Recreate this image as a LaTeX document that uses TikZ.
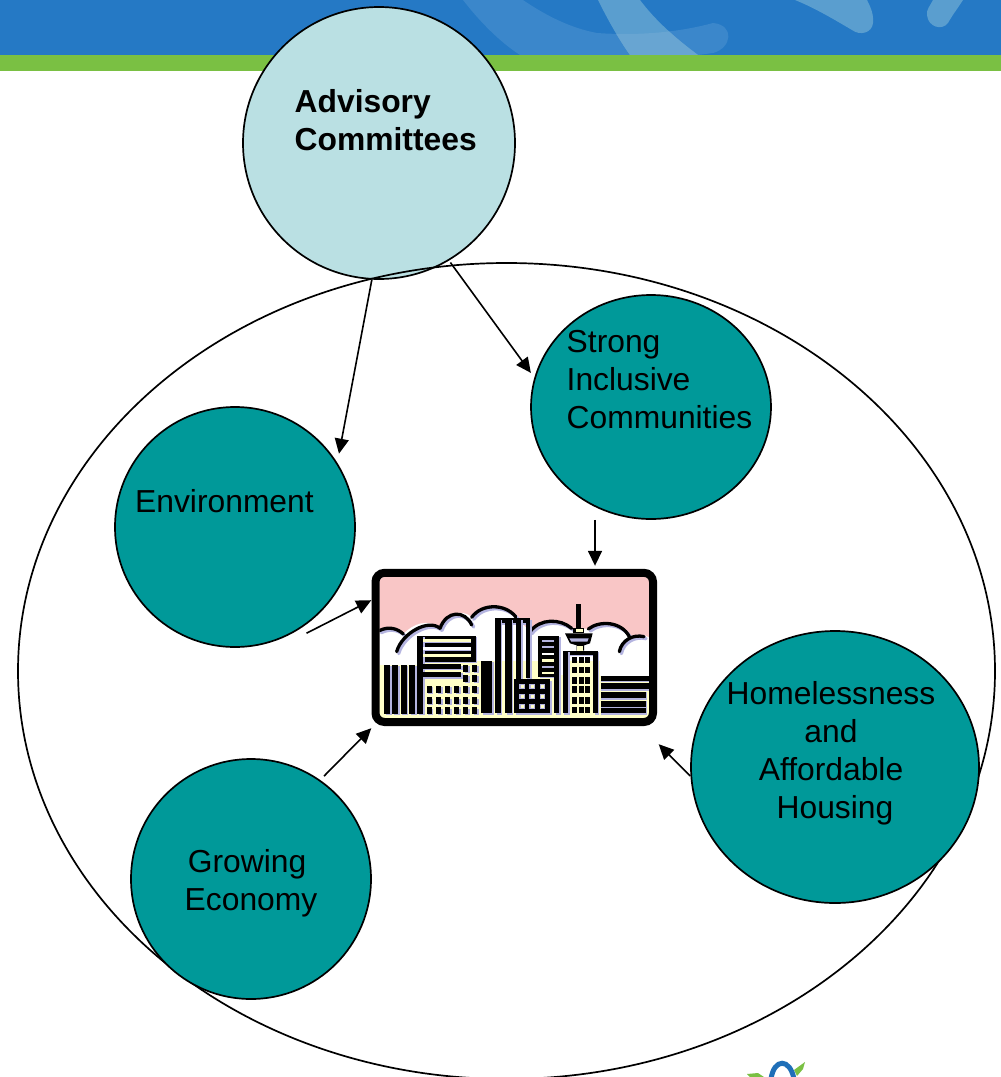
\documentclass[tikz,border=0pt]{standalone}
\usepackage{fontspec}
\setmainfont{Liberation Sans}
\usetikzlibrary{shapes.geometric,arrows.meta}
\definecolor{bannerblue}{HTML}{2579C5}
\definecolor{bannergreen}{HTML}{7AC043}
\definecolor{swooshA}{HTML}{3B87CB}
\definecolor{swooshB}{HTML}{5A9ECF}
\definecolor{swooshC}{HTML}{68A5D2}
\definecolor{logoblue}{HTML}{1F6FB8}
\definecolor{paleteal}{HTML}{BAE0E3}
\definecolor{teal2}{HTML}{009999}
\definecolor{citypink}{HTML}{F9C6C6}
\definecolor{cityyellow}{HTML}{FFFFC8}
\definecolor{citylav}{HTML}{B4B4E0}
\tikzset{
  circ/.style={ellipse,draw=black,line width=1.7pt,inner sep=0pt,fill=teal2},
  lab/.style={font=\fontsize{31.8}{38}\selectfont,inner sep=0pt,text=black},
  conn/.style={line width=1.6pt,draw=black,-{Triangle[length=15pt,width=14pt]}},
  cloudline/.style={line width=3.3pt,line cap=round,draw=black},
  cloudshadow/.style={line width=3.3pt,line cap=round,draw=citylav},
}
\newcommand{\cityblock}[4]{%
  \fill[citylav] ({#1+5},{#2+4}) rectangle ({#3+5},{#4+4});
  \fill[black] (#1,#2) rectangle (#3,#4);}
\newcommand{\cityclouds}[1]{%
  \draw[#1] (58,212) .. controls (85,198) and (112,205) .. (130,222);
  \draw[#1] (110,275) .. controls (125,220) and (205,175) .. (240,205);
  \draw[#1] (240,205) .. controls (260,150) and (315,150) .. (335,195);
  \draw[#1] (335,172) .. controls (365,130) and (435,130) .. (467,170);
  \draw[#1] (510,215) .. controls (540,175) and (600,175) .. (635,205);
  \draw[#1] (685,207) .. controls (720,180) and (785,185) .. (808,230);
  \draw[#1] (778,275) .. controls (785,240) and (820,222) .. (852,230);}
\begin{document}
\begin{tikzpicture}[x=1pt,y=-1pt]
\useasboundingbox (0,0) rectangle (1001,1077);
\begin{scope}
\clip (0,0) rectangle (1001,1077);
% banner
\fill[bannerblue] (0,0) rectangle (1001,55);
\fill[swooshA] (463,0) .. controls (480,22) and (500,42) .. (520,55) -- (698,55) -- (713,53) .. controls (732,48) and (735,25) .. (713,23) .. controls (680,32) and (640,36) .. (597,33) .. controls (570,28) and (545,15) .. (523,0) -- cycle;
\fill[swooshB] (598,0) .. controls (608,20) and (618,38) .. (630,55) -- (698,55) .. controls (675,38) and (655,20) .. (640,0) -- cycle;
\begin{scope}
\clip (598,0) .. controls (608,20) and (618,38) .. (630,55) -- (698,55) .. controls (675,38) and (655,20) .. (640,0) -- cycle;
\fill[swooshC] (463,0) .. controls (480,22) and (500,42) .. (520,55) -- (698,55) -- (713,53) .. controls (732,48) and (735,25) .. (713,23) .. controls (680,32) and (640,36) .. (597,33) .. controls (570,28) and (545,15) .. (523,0) -- cycle;
\end{scope}
\fill[swooshB] (795,0) .. controls (815,8) and (835,20) .. (852,30) .. controls (860,36) and (872,33) .. (873,23) .. controls (874,14) and (870,6) .. (867,0) -- cycle;
\fill[swooshB] (933,0) .. controls (930,6) and (926,10) .. (927,15) .. controls (928,27) and (942,31) .. (948,23) .. controls (953,14) and (958,8) .. (963,0) -- cycle;
\fill[bannergreen] (0,55) rectangle (1001,71);
% logo
\fill[bannergreen] (747,1074) -- (758,1073) -- (764,1077) -- (750,1077) -- cycle;
\fill[bannergreen] (794,1070) -- (805,1062) -- (803,1069) -- (797,1076) -- cycle;
\draw[line width=5pt,draw=logoblue] (771,1079) .. controls (774,1058) and (790,1058) .. (794,1079);
\end{scope}
% advisory circle lies under the outer ellipse
\node[circ,fill=paleteal,minimum width=272pt,minimum height=272pt] (adv) at (379,143) {};
\begin{scope}
\clip (0,0) rectangle (1001,1077);
\node[circ,fill=none,minimum width=977pt,minimum height=816pt] (whole) at (506.5,671) {};
\end{scope}
\node[circ,minimum width=240pt,minimum height=224pt] (strong) at (651,407) {};
\node[circ,minimum width=240pt,minimum height=240pt] (env) at (235,527) {};
\node[circ,minimum width=240pt,minimum height=240pt] (grow) at (251,879) {};
\node[circ,minimum width=288pt,minimum height=272pt] (home) at (835,767) {};
% labels
\node[lab,anchor=base west,align=left,font=\fontsize{31.8}{38}\selectfont\bfseries] (advt) at (294.5,150) {Advisory\\Committees};
\node[lab,anchor=base west,align=left] (strongt) at (566.5,428) {Strong\\Inclusive\\Communities};
\node[lab,anchor=base west] (envt) at (135,512) {Environment};
\node[lab,anchor=base,align=center] (growt) at (251,910) {Growing\kern8pt\\Economy};
\node[lab,anchor=base,align=center] (homet) at (831,818) {Homelessness\\and\\Affordable\\\hspace{8pt}Housing};
% city picture
\node[inner sep=0pt,minimum width=285pt,minimum height=157pt] (city) at (514,647.5) {};
\begin{scope}[shift={(360,560)},scale=1/3]
\begin{scope}
\clip[rounded corners=6pt] (58,50) rectangle (868,475);
\fill[citypink] (58,50) rectangle (868,475);
\fill[white] (58,212) .. controls (85,198) and (112,205) .. (130,222) .. controls (160,190) and (205,175) .. (240,205) .. controls (260,150) and (315,150) .. (335,172) .. controls (365,130) and (435,130) .. (467,170) -- (510,215) .. controls (540,175) and (600,175) .. (635,205) -- (685,207) .. controls (720,180) and (785,185) .. (808,230) .. controls (825,222) and (850,222) .. (868,232) -- (868,475) -- (58,475) -- cycle;
% ground
\fill[cityyellow] (58,315) rectangle (172,475);
\fill[cityyellow] (172,302) rectangle (720,475);
\fill[cityyellow] (720,348) rectangle (868,475);
\fill[white] (600,272) rectangle (612,345);
\cityclouds{cloudshadow,shift={(6,6)}}
\cityclouds{cloudline}
% left bars
\foreach \a/\b in {72/90,97/115,122/140,147/165}{\cityblock{\a}{315}{\b}{462}}
% striped block
\cityblock{172}{227}{347}{305}
\cityblock{172}{227}{190}{462}
\fill[cityyellow] (190,238) rectangle (333,247);
\fill[white] (190,260) rectangle (333,269);
\fill[cityyellow] (190,282) rectangle (333,290);
\fill[citylav] (190,247) rectangle (333,250);
\fill[citylav] (190,269) rectangle (333,272);
\cityblock{190}{313}{303}{327}
\cityblock{190}{335}{303}{352}
\foreach \x in {200,228,255,283,310,337}{\foreach \y in {378,412,442}{\cityblock{\x}{\y}{\x+15}{\y+20}}}
\foreach \x in {310,337}{\foreach \y in {315,345}{\cityblock{\x}{\y}{\x+15}{\y+20}}}
% dark tower
\cityblock{363}{303}{397}{460}
% tall building
\cityblock{405}{175}{510}{190}
\foreach \a/\b in {405/422,436/455,468/484}{\cityblock{\a}{175}{\b}{460}}
\cityblock{497}{175}{510}{355}
% low block
\cityblock{462}{358}{570}{460}
\foreach \x in {478,508,540}{\foreach \y in {372,403,433}{\fill[citylav] (\x,\y) rectangle (\x+16,\y+14);\fill[cityyellow] (\x+4,\y+3) rectangle (\x+13,\y+11);}}
% striped mid building
\cityblock{535}{228}{598}{350}
\foreach \y/\c in {240/citylav,258/citylav,278/white,298/cityyellow,317/citylav,335/cityyellow}{\fill[\c] (547,\y) rectangle (583,\y+7);}
\cityblock{583}{350}{598}{460}
% tower building
\cityblock{608}{272}{713}{285}
\cityblock{608}{272}{625}{460}
\cityblock{700}{272}{713}{460}
\foreach \x in {637,656,675}{\foreach \y in {290,320,352,378,412,440}{\fill[black] (\x,\y) rectangle (\x+15,\y+20);}}
\fill[black] (648,132) rectangle (663,205);
\fill[black] (640,203) rectangle (672,220);
\fill[cityyellow] (649,206) rectangle (668,217);
\fill[black] (615,220) -- (698,220) -- (690,250) -- (672,256) -- (672,272) -- (650,272) -- (650,256) -- (630,250) -- cycle;
\fill[citylav] (628,235) -- (686,235) -- (682,245) -- (634,245) -- cycle;
\fill[cityyellow] (651,259) rectangle (670,272);
% right low block
\foreach \y/\z/\r in {348/362/868,370/388/868,397/415/858,422/440/858,445/460/858}{\fill[citylav] (722,\y) rectangle (\r+2,\z+4);\fill[black] (722,\y) rectangle (\r,\z);}
\end{scope}
\draw[line width=8pt,rounded corners=9pt] (46.5,38.5) rectangle (879,486);
\end{scope}
% connectors
\draw[conn] (adv.267) -- ([shift={(5,-4)}]env.35);
\draw[conn] ([shift={(3,1)}]adv.300) -- ([shift={(-4,-3)}]strong.165);
\draw[conn] ([shift={(-56,0)}]strong.south) -- ([shift={(81,-3)}]city.north);
\draw[conn] ([shift={(4,6)}]env.-56) -- ([shift={(0,-126)}]city.south west);
\draw[conn] ([shift={(-3,-9)}]grow.51) -- ([shift={(0,2)}]city.south west);
\draw[conn] (home.west |- 0,776) -- ([shift={(2,18)}]city.south east);
\end{tikzpicture}
\end{document}
